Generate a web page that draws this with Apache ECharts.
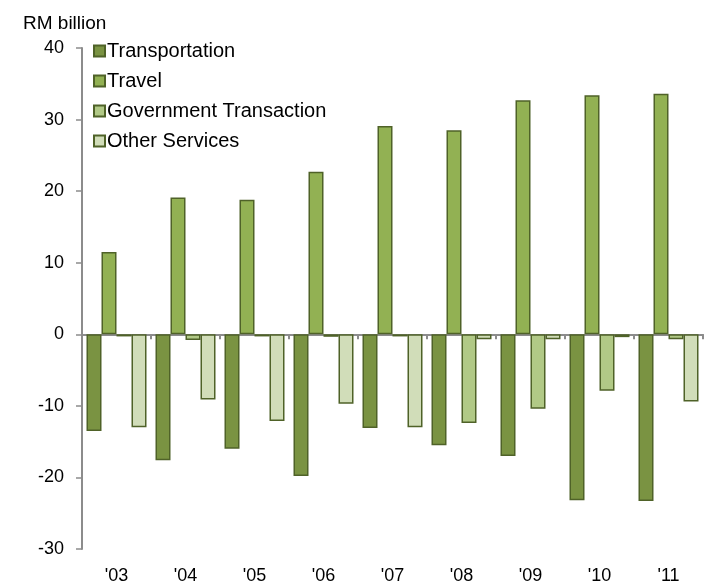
<!DOCTYPE html>
<html>
<head>
<meta charset="utf-8">
<script src="https://cdn.jsdelivr.net/npm/echarts@6/dist/echarts.min.js"></script>
<style>
  html, body { margin: 0; padding: 0; background: #fff; }
  #chart { width: 708px; height: 585px; }
</style>
</head>
<body>
<div id="chart"></div>
<script>
  // data
  var years = ["'03", "'04", "'05", "'06", "'07", "'08", "'09", "'10", "'11"];
  var transportation = [-13.5, -17.6, -16.0, -19.8, -13.1, -15.5, -17.0, -23.2, -23.3];
  var travel = [11.5, 19.1, 18.8, 22.7, 29.1, 28.5, 32.7, 33.4, 33.6];
  var government = [-0.3, -0.8, -0.3, -0.35, -0.3, -12.4, -10.4, -7.9, -0.7];
  var otherServices = [-13.0, -9.1, -12.1, -9.7, -13.0, -0.7, -0.7, -0.4, -9.4];

  var font = 'Liberation Sans, Arial, sans-serif';
  var edge = '#4f6228';

  function barSeries(name, data, color) {
    return {
      name: name,
      type: 'bar',
      data: data,
      barWidth: 15,
      barGap: '0%',
      xAxisIndex: 0,
      itemStyle: { color: color, borderColor: edge, borderWidth: 1.5 }
    };
  }

  var chart = echarts.init(document.getElementById('chart'));
  var option = {
    animation: false,
    textStyle: { fontFamily: font },
    title: {
      text: 'RM billion',
      left: 18,
      top: 9,
      textStyle: { fontFamily: font, fontSize: 19, fontWeight: 'normal', color: '#000' }
    },
    legend: {
      orient: 'vertical',
      left: 88,
      top: 36,
      icon: 'rect',
      itemWidth: 11,
      itemHeight: 11,
      itemGap: 10,
      textStyle: { fontFamily: font, fontSize: 20, color: '#000', lineHeight: 20, padding: [0, 0, 0, -3] },
      data: ['Transportation', 'Travel', 'Government Transaction', 'Other Services']
    },
    grid: { left: 82, right: 5, top: 48, bottom: 36, containLabel: false },
    xAxis: [{
      type: 'category',
      data: years,
      axisLine: { onZero: true, lineStyle: { color: '#8c8c8c', width: 2 } },
      axisTick: { show: true, inside: false, length: 5, lineStyle: { color: '#8c8c8c', width: 2 } },
      axisLabel: { show: false }
    }, {
      type: 'category',
      data: years,
      position: 'bottom',
      axisLine: { show: false },
      axisTick: { show: false },
      axisLabel: { fontFamily: font, fontSize: 18, color: '#000', margin: 18 }
    }],
    yAxis: {
      type: 'value',
      min: -30,
      max: 40,
      interval: 10,
      splitLine: { show: false },
      axisLine: { show: true, lineStyle: { color: '#8c8c8c', width: 2 } },
      axisTick: { show: true, length: 6, lineStyle: { color: '#8c8c8c', width: 1.5 } },
      axisLabel: { fontFamily: font, fontSize: 18, color: '#000', margin: 18 }
    },
    series: [
      barSeries('Transportation', transportation, '#7a9342'),
      barSeries('Travel', travel, '#92b153'),
      barSeries('Government Transaction', government, '#b1c986'),
      barSeries('Other Services', otherServices, '#d1ddb9')
    ]
  };
  chart.setOption(option);
</script>
</body>
</html>
